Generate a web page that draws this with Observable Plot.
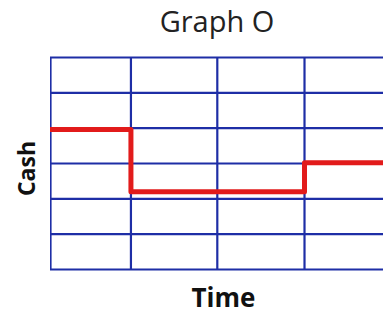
<!DOCTYPE html>
<html>
<head>
<meta charset="utf-8">
<script src="https://cdn.jsdelivr.net/npm/d3@7"></script>
<script src="https://cdn.jsdelivr.net/npm/@observablehq/plot@0.6"></script>
<style>
  html, body { margin: 0; padding: 0; background: #fff; }
  svg { display: block; }
</style>
</head>
<body>
<div id="chart"></div>
<script>
const title = "Graph O";
const xLabel = "Time";
const yLabel = "Cash";
const xGrid = [0, 0.95, 1.97, 3];
const yGrid = [0, 1, 2, 3, 4, 5, 6];
const times = [0, 0.95, 3, 4];
const cash = [3.96, 2.2, 3.02, 3.02];

const stepData = times.map((t, i) => ({t, c: cash[i]}));
const blue = "#1e2ea6";
const red = "#e21b1b";

const chart = Plot.plot({
  width: 383,
  height: 314,
  marginLeft: 50,
  marginRight: 0,
  marginTop: 57,
  marginBottom: 45,
  x: {domain: [0, 3.933], axis: null},
  y: {domain: [0, 6], axis: null},
  style: {background: "#fff", overflow: "visible"},
  marks: [
    Plot.ruleX(xGrid, {x: d => d, stroke: blue, strokeWidth: 2.2, clip: true}),
    Plot.ruleY(yGrid, {y: d => d, stroke: blue, strokeWidth: 2.2}),
    Plot.line(stepData, {x: "t", y: "c", curve: "step-after", stroke: red, strokeWidth: 5, clip: true}),
    Plot.text([title], {frameAnchor: "top", dy: -34.5, fontSize: 29, fontFamily: "Open Sans", fill: "#222", lineAnchor: "middle"}),
    Plot.text([xLabel], {frameAnchor: "bottom", dx: 6.5, dy: 29, fontSize: 26, fontWeight: "bold", fontFamily: "Open Sans", fill: "#111", lineAnchor: "middle"}),
    Plot.text([yLabel], {frameAnchor: "left", textAnchor: "middle", dx: -23, dy: 5, rotate: -90, fontSize: 23, fontWeight: "bold", fontFamily: "Open Sans", fill: "#111", lineAnchor: "middle"})
  ]
});
document.getElementById("chart").append(chart);
</script>
</body>
</html>
